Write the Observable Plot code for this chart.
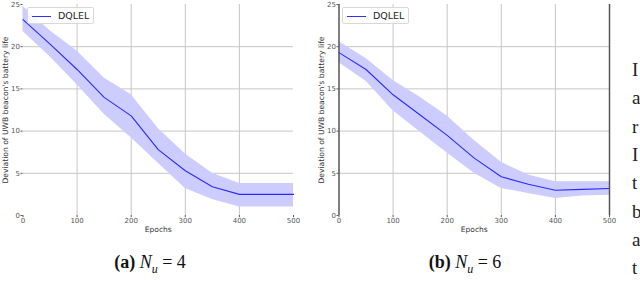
<!DOCTYPE html>
<html>
<head>
<meta charset="utf-8">
<script src="https://cdn.jsdelivr.net/npm/d3@7"></script>
<script src="https://cdn.jsdelivr.net/npm/@observablehq/plot@0.6"></script>
<style>
  html, body { margin: 0; padding: 0; background: #fff; }
  #root { position: relative; width: 640px; height: 281px; overflow: hidden; font-family: "DejaVu Sans", sans-serif; }
  .chart { position: absolute; top: 0; }
  .legend { position: absolute; height: 17px; width: 67px; border: 1px solid #d8d8d8; border-radius: 2px; background: rgba(255,255,255,0.85); box-sizing: border-box; }
  .legend .sw { position: absolute; left: 4px; top: 8px; width: 19px; height: 0; border-top: 1px solid #3030ff; }
  .legend .lb { position: absolute; left: 30px; top: 2px; font-size: 9.5px; color: #222; line-height: 12px; }
  .cap { position: absolute; top: 252px; font-family: "Liberation Serif", "DejaVu Serif", serif; font-size: 18px; color: #111; white-space: nowrap; transform: translateX(-50%); }
  .cap b { font-weight: bold; }
  .cut { position: absolute; left: 632px; font-family: "Liberation Serif", serif; font-size: 19px; color: #222; line-height: 19px; }
</style>
</head>
<body>
<div id="root"></div>
<script>
// ---- data ----
const epochs = [0, 50, 100, 150, 200, 250, 300, 350, 400, 450, 500];

const meanA  = [23.2, 20.3, 17.3, 14.0, 11.8, 7.8, 5.3, 3.4, 2.5, 2.5, 2.5];
const upperA = [24.8, 21.9, 19.5, 16.3, 14.3, 10.3, 7.3, 5.0, 3.8, 3.8, 3.8];
const lowerA = [21.8, 18.8, 15.5, 12.0, 9.2, 6.2, 3.2, 1.9, 1.0, 1.0, 1.0];

const meanB  = [19.3, 17.3, 14.3, 11.9, 9.5, 6.8, 4.6, 3.7, 3.0, 3.1, 3.2];
const upperB = [20.6, 18.6, 16.0, 14.0, 11.8, 8.9, 6.3, 4.8, 4.0, 4.0, 4.0];
const lowerB = [18.1, 15.9, 12.4, 9.9, 7.4, 5.0, 3.2, 2.6, 2.0, 2.3, 2.4];

const xTicks = [0, 100, 200, 300, 400, 500];
const yTicks = [0, 5, 10, 15, 20, 25];
const xGrid = [100, 200, 300, 400];
const yGrid = [5, 10, 15, 20];

const seriesName = "DQLEL";
const xLabel = "Epochs";
const yLabel = "Deviation of UWB beacon's battery life";
const captions = [
  {tag: "(a)", n: "4"},
  {tag: "(b)", n: "6"}
];
const cutLetters = ["I", "a", "r", "I", "t", "b", "a", "t"];

// ---- drawing ----
const root = document.getElementById("root");

function makeChart(mean, upper, lower, spines) {
  const rows = epochs.map((e, i) => ({epoch: e, mean: mean[i], hi: upper[i], lo: lower[i]}));
  const marks = [
    Plot.ruleY(yGrid, {stroke: "#c6c6c6", strokeWidth: 1}),
    Plot.ruleX(xGrid, {stroke: "#c6c6c6", strokeWidth: 1}),
    Plot.areaY(rows, {x: "epoch", y1: "lo", y2: "hi", fill: "#ccccff", fillOpacity: 1}),
    Plot.line(rows, {x: "epoch", y: "mean", stroke: "#2a2aff", strokeWidth: 1.1}),
    Plot.axisY({ticks: yTicks, tickSize: 2, tickPadding: 1, fontSize: 7, label: null, color: "#555"}),
    Plot.axisX({ticks: xTicks, tickSize: 2, tickPadding: 1, fontSize: 7, label: null, color: "#555"}),
    Plot.text([yLabel], {text: d => d, frameAnchor: "left", textAnchor: "middle", rotate: -90, dx: -17, fontSize: 7.6, fill: "#333"}),
    Plot.text([xLabel], {text: d => d, frameAnchor: "bottom", dy: 16, fontSize: 7.5, fill: "#333"})
  ];
  if (spines) marks.push(Plot.ruleX([0, 500], {stroke: "#555", strokeWidth: 1.5}));
  return Plot.plot({
    width: 300,
    height: 240,
    marginTop: 4,
    marginBottom: 25,
    marginLeft: 22.5,
    marginRight: 7,
    x: {domain: [0, 500]},
    y: {domain: [0, 25]},
    style: {fontFamily: "DejaVu Sans, sans-serif", background: "transparent", overflow: "visible"},
    marks
  });
}

const specs = [
  {left: 0, mean: meanA, upper: upperA, lower: lowerA, spines: false, legendLeft: 27, capX: 150},
  {left: 315.5, mean: meanB, upper: upperB, lower: lowerB, spines: true, legendLeft: 342, capX: 465}
];

specs.forEach((s, i) => {
  const svg = makeChart(s.mean, s.upper, s.lower, s.spines);
  const wrap = document.createElement("div");
  wrap.className = "chart";
  wrap.style.left = s.left + "px";
  wrap.appendChild(svg);
  root.appendChild(wrap);

  const lg = document.createElement("div");
  lg.className = "legend";
  lg.style.left = s.legendLeft + "px";
  lg.style.top = "7px";
  lg.innerHTML = `<div class="sw"></div><div class="lb">${seriesName}</div>`;
  root.appendChild(lg);

  const cap = document.createElement("div");
  cap.className = "cap";
  cap.style.left = s.capX + "px";
  cap.innerHTML = `<b>${captions[i].tag}</b>&nbsp;<i>N</i><sub style="font-size:12px;font-style:italic">u</sub> = ${captions[i].n}`;
  root.appendChild(cap);
});

cutLetters.forEach((ch, i) => {
  const d = document.createElement("div");
  d.className = "cut";
  d.style.top = (60 + i * 28.3) + "px";
  d.textContent = ch;
  root.appendChild(d);
});
</script>
</body>
</html>
